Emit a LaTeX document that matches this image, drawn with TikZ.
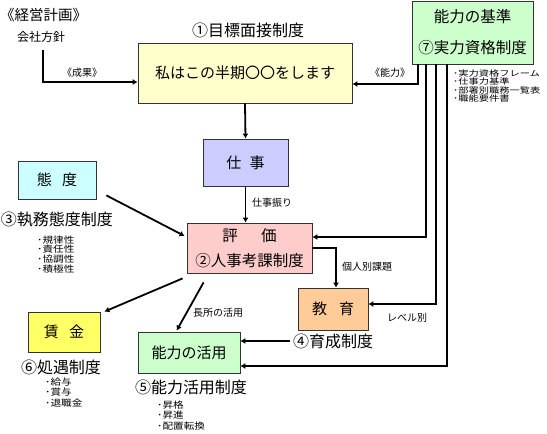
\documentclass[tikz,border=0pt]{standalone}
\usepackage{fontspec}
\setmainfont{Noto Sans CJK JP}
\newfontfamily\listfont[FakeStretch=1.18]{Noto Sans CJK JP}
\newfontfamily\widelistfont[FakeStretch=1.28]{Noto Sans CJK JP}
\usetikzlibrary{arrows.meta,calc}
\definecolor{boxyellow}{HTML}{FFFFCC}
\definecolor{boxgreen}{HTML}{CCFFCC}
\definecolor{boxblue}{HTML}{CCCCFF}
\definecolor{boxpink}{HTML}{FFCCCC}
\definecolor{boxcyan}{HTML}{CCFFFF}
\definecolor{boxorange}{HTML}{FFCC99}
\definecolor{boxgold}{HTML}{FFFF66}
\definecolor{boxline}{HTML}{333333}
\tikzset{
>={Latex[length=5pt,width=6pt]},
plan box/.style={
  draw=boxline,
  line width=0.8pt,
  inner sep=0pt,
  align=center,
  font=\fontsize{15}{18}\selectfont
},
flow line/.style={draw=black, ->, line width=1.8pt},
sys label/.style={font=\fontsize{16}{18}\selectfont, inner sep=0pt},
edge label/.style={font=\fontsize{10}{12}\selectfont, inner sep=0pt, anchor=west},
item list/.style={inner sep=0pt, anchor=north west, align=left}
}
\begin{document}
\begin{tikzpicture}[x=1pt,y=-1pt]
\useasboundingbox (0,0) rectangle (547,434);
% boxes
\node[plan box,fill=boxyellow,minimum width=214pt,minimum height=60pt] (mokuhyo) at (245,73) {私はこの半期〇〇をします};
\node[plan box,fill=boxgreen,minimum width=121pt,minimum height=63pt,font=\fontsize{15.5}{31}\selectfont] (kijun) at (472.5,32.5) {能力の基準\\⑦実力資格制度};
\node[plan box,fill=boxblue,minimum width=85pt,minimum height=47pt] (shigoto) at (245.5,162.5) {仕\hspace{0.55em}事};
\node[plan box,fill=boxpink,minimum width=125pt,minimum height=50pt,font=\fontsize{15.5}{25}\selectfont] (hyouka) at (249.5,248) {評\hspace{1.5em}価\\②人事考課制度};
\node[plan box,fill=boxcyan,minimum width=78pt,minimum height=38pt] (taido) at (57,180) {態\hspace{0.7em}度};
\node[plan box,fill=boxorange,minimum width=70pt,minimum height=42pt] (kyouiku) at (333,309) {教\hspace{0.8em}育};
\node[plan box,fill=boxgold,minimum width=72pt,minimum height=40pt] (chingin) at (64,332) {賃\hspace{0.7em}金};
\node[plan box,fill=boxgreen,minimum width=102pt,minimum height=41pt] (katsuyou) at (189,352.5) {能力の活用};
% free labels
\node[sys label,font=\fontsize{14.5}{16}\selectfont,anchor=west] (keiei) at (0,15) {《経営計画》};
\node[inner sep=0pt,font=\fontsize{12}{14}\selectfont] (kaisha) at (41,37) {会社方針};
\node[sys label] (mensetsu) at (248,30) {①目標面接制度};
\node[sys label] (shitsumu) at (57,220) {③執務態度制度};
\node[sys label] (ikusei) at (333,341) {④育成制度};
\node[sys label] (katsuyousei) at (191,387) {⑤能力活用制度};
\node[sys label] (shogu) at (61,367) {⑥処遇制度};
% item lists
\node[item list,font=\widelistfont\fontsize{8}{7.3}\selectfont] (kijunlist) at (453,69.5) {･実力資格フレーム\\･仕事力基準\\･部署別職務一覧表\\･職能要件書};
\node[item list,font=\listfont\fontsize{9}{9.7}\selectfont] (taidolist) at (37,235.5) {･規律性\\･責任性\\･協調性\\･積極性};
\node[item list,font=\listfont\fontsize{9}{10.5}\selectfont] (shogulist) at (45,377.5) {･給与\\･賞与\\･退職金};
\node[item list,font=\listfont\fontsize{9}{10.5}\selectfont] (katsuyoulist) at (157,400.5) {･昇格\\･昇進\\･配置転換};
% connector labels
\node[edge label] (seika) at (62,73) {《成果》};
\node[edge label] (nouryoku) at (370,73) {《能力》};
\node[edge label] (shigotoburi) at (252,203) {仕事振り};
\node[edge label] (kadai) at (342,267) {個人別課題};
\node[edge label] (level) at (387,318) {レベル別};
\node[edge label] (chousho) at (193,313) {長所の活用};
% connectors
\draw[flow line] ([xshift=2pt,yshift=-7pt]kaisha.south) |- ([yshift=-9pt]mokuhyo.west);
\draw[flow line] ([xshift=6pt]kijun.south west) |- ([yshift=-11pt]mokuhyo.east);
\draw[flow line] ([xshift=14pt]kijun.south west) |- ([yshift=11pt]hyouka.east);
\draw[flow line] ([xshift=24pt]kijun.south west) |- ([yshift=5pt]kyouiku.east);
\draw[flow line] ([xshift=35pt]kijun.south west) |- ([yshift=-13.5pt]katsuyou.east);
\draw[flow line] (mokuhyo.south) -- (shigoto.north);
\draw[flow line] (shigoto.south) -- (shigoto.south |- hyouka.north);
\draw[flow line] ([xshift=10pt,yshift=4pt]taido.south east) -- ([xshift=-2pt,yshift=12pt]hyouka.west);
\draw[flow line] (hyouka.east) -| ([xshift=3pt]kyouiku.north);
\draw[flow line] ([xshift=-4pt,yshift=-5pt]hyouka.south west) -- ([xshift=4pt]chingin.north east);
\draw[flow line] ([xshift=17pt,yshift=-9pt]hyouka.south west) -- ([xshift=39pt,yshift=1pt]katsuyou.north west);
\draw[flow line] ([xshift=-3pt]ikusei.west) -- (ikusei.west -| katsuyou.east);
\end{tikzpicture}
\end{document}
